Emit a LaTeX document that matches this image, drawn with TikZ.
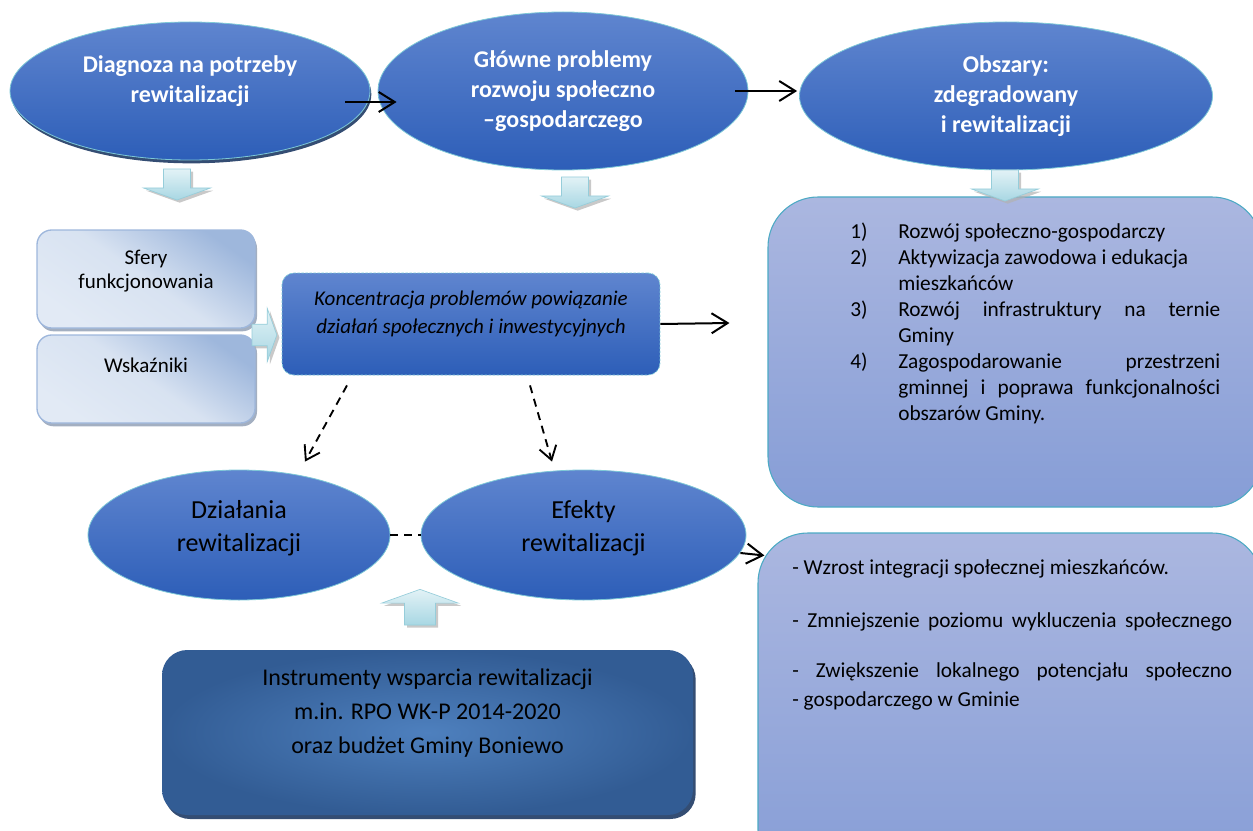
\documentclass[tikz,border=0pt]{standalone}
\usepackage{fontspec}
\setmainfont{Carlito}
\usetikzlibrary{shapes.geometric,arrows.meta,shadows}

\newcommand{\pxu}{0.75pt}
\newlength{\numw}\setlength{\numw}{36pt}
\newlength{\txtw}\setlength{\txtw}{241.5pt}
\newlength{\wyw}\setlength{\wyw}{330pt}

\definecolor{headtop}{RGB}{95,133,207}
\definecolor{headbot}{RGB}{45,94,184}
\definecolor{headrim}{RGB}{125,200,214}
\definecolor{listtop}{RGB}{171,183,224}
\definecolor{listbot}{RGB}{134,157,214}
\definecolor{listrim}{RGB}{76,170,196}
\definecolor{sferydark}{RGB}{158,183,220}
\definecolor{sferylight}{RGB}{226,234,245}
\definecolor{sferyshad}{RGB}{140,155,178}
\definecolor{fundout}{RGB}{50,92,148}
\definecolor{fundin}{RGB}{78,128,190}
\definecolor{fundshad}{RGB}{30,58,100}
\definecolor{blocktop}{RGB}{226,242,246}
\definecolor{blockbot}{RGB}{168,215,227}
\definecolor{blockrim}{RGB}{150,205,218}

\tikzset{
  headellipse/.style={ellipse, draw=headrim, line width=0.6pt, top color=headtop,
    bottom color=headbot, inner sep=0pt, align=center, text=white,
    font=\fontsize{18}{22.5}\selectfont\bfseries},
  resultellipse/.style={ellipse, draw=headrim, line width=0.6pt, top color=headtop,
    bottom color=headbot, inner sep=0pt, align=center, text=black,
    font=\fontsize{19.5}{24.75}\selectfont},
  sidebox/.style={rectangle, rounded corners=11pt, draw=sferydark, line width=1pt,
    top color=sferydark, bottom color=sferylight, middle color=sferylight!85!sferydark,
    shading angle=-35, inner sep=0pt, align=center,
    minimum width=218*\pxu, font=\fontsize{15.75}{18}\selectfont,
    drop shadow={shadow xshift=1.5pt, shadow yshift=-2.5pt, fill=sferyshad, opacity=0.8}},
  focusbox/.style={rectangle, rounded corners=9pt, draw=headrim, line width=0.6pt,
    dash pattern=on 2pt off 1pt, top color=headtop, bottom color=headbot,
    inner sep=0pt, align=center, font=\fontsize{15.75}{21}\selectfont\itshape},
  listbox/.style={rectangle, rounded corners=37.5pt, draw=listrim, line width=0.8pt,
    top color=listtop, bottom color=listbot, inner sep=0pt},
  listtext/.style={inner sep=0pt, align=left, font=\fontsize{16}{19.5}\selectfont},
  fundbox/.style={rectangle, rounded corners=19pt, inner color=fundin, outer color=fundout,
    inner sep=0pt, align=center, font=\fontsize{18}{25.5}\selectfont,
    drop shadow={shadow xshift=2pt, shadow yshift=-3pt, fill=fundshad, opacity=0.9}},
  arr/.style={-{Straight Barb[length=12pt,width=15pt]}, line width=1.5pt},
  dasharr/.style={-{Straight Barb[length=10pt,width=13pt]}, line width=1.4pt,
    dash pattern=on 6pt off 4.5pt},
  downblock/.pic={
    \path[draw=blockrim, line width=0.5pt, top color=blocktop, bottom color=blockbot,
      drop shadow={shadow xshift=2pt, shadow yshift=-2pt, fill=gray!60, opacity=0.7}]
      (-13.5,0) -- (13.5,0) -- (13.5,19) -- (33.5,19) -- (0,31) -- (-33.5,19)
      -- (-13.5,19) -- cycle;
  }
}

\begin{document}
\begin{tikzpicture}[x=0.75pt,y=-0.75pt]
  \useasboundingbox (0,0) rectangle (1253,831);

  % prawa strona - duze ramki
  \node (box1) at (1015,352) [listbox, minimum width=494*\pxu, minimum height=310*\pxu]{};
  \node (box2) at (1010,706.5) [listbox, minimum width=504*\pxu, minimum height=347*\pxu]{};

  \node (list1) at (850,223) [listtext, anchor=north west]{%
    \makebox[\numw][l]{1)}Rozwój społeczno-gospodarczy\\
    \makebox[\numw][l]{2)}Aktywizacja zawodowa i edukacja\\
    \makebox[\numw][l]{}mieszkańców\\
    \makebox[\numw][l]{3)}\makebox[\txtw][s]{Rozwój infrastruktury na ternie}\\
    \makebox[\numw][l]{}Gminy\\
    \makebox[\numw][l]{4)}\makebox[\txtw][s]{Zagospodarowanie przestrzeni}\\
    \makebox[\numw][l]{}\makebox[\txtw][s]{gminnej i poprawa funkcjonalności}\\
    \makebox[\numw][l]{}obszarów Gminy.};

  \node (list2) at (792,559) [listtext, anchor=north west, font=\fontsize{16}{21.75}\selectfont]{%
    - Wzrost integracji społecznej mieszkańców.\\[18pt]
    \makebox[\wyw][s]{- Zmniejszenie poziomu wykluczenia społecznego}\\[15.75pt]
    \makebox[\wyw][s]{- Zwiększenie lokalnego potencjału społeczno}\\
    - gospodarczego w Gminie};

  % gorny rzad
  \node (diag) at (190,91) [headellipse, minimum width=360*\pxu, minimum height=138*\pxu,
    drop shadow={shadow xshift=1pt, shadow yshift=-2.5pt, fill=fundshad, opacity=0.9}]
    {Diagnoza na potrzeby\\rewitalizacji\\[-5pt]\mbox{}};
  \node (glow) at (563,91) [headellipse, minimum width=370*\pxu, minimum height=158*\pxu]
    {Główne problemy\\rozwoju społeczno\\–gospodarczego};
  \node (obsz) at (1006,96) [headellipse, minimum width=413*\pxu, minimum height=148*\pxu]
    {Obszary:\\zdegradowany\\i rewitalizacji};

  \draw[arr] ([shift={(-25,11)}]diag.east) -- ([shift={(19,11)}]glow.west);
  \draw[arr] ([shift={(-13,0)}]glow.east) -- ([shift={(-2,-5)}]obsz.west);

  % srodek
  \node (sfery) at (146,279) [sidebox, minimum height=98*\pxu]{Sfery\\funkcjonowania\\[-4pt]\mbox{}};
  \node (wskaz) at (146,379) [sidebox, minimum height=88*\pxu]{Wskaźniki\\[3pt]\mbox{}};
  \node (konc) at (471,324) [focusbox, minimum width=378*\pxu, minimum height=102*\pxu]
    {Koncentracja problemów powiązanie\\działań społecznych i inwestycyjnych\\[-3pt]\mbox{}};

  \draw[arr] (konc.east) -- ([shift={(-38,-29)}]box1.west);

  % dolny rzad
  \node (dzial) at (239,535) [resultellipse, minimum width=302*\pxu, minimum height=130*\pxu]
    {Działania\\rewitalizacji\\[-11pt]\mbox{}};
  \node (efekt) at (583.5,535) [resultellipse, minimum width=325*\pxu, minimum height=130*\pxu]
    {Efekty\\rewitalizacji\\[-11pt]\mbox{}};
  \node (fund) at (427.5,732.5) [fundbox, minimum width=531*\pxu, minimum height=165*\pxu]
    {Instrumenty wsparcia rewitalizacji\\m.in. RPO WK-P 2014-2020\\oraz budżet Gminy Boniewo\\[6pt]\mbox{}};

  \draw[dasharr] ([shift={(-124,10)}]konc.south) -- ([shift={(66,-8)}]dzial.north);
  \draw[dasharr] ([shift={(59,10)}]konc.south) -- ([shift={(-31.5,-8)}]efekt.north);
  \draw[line width=1.4pt, dash pattern=on 6pt off 4.5pt] (dzial.east) -- (efekt.west);
  \draw[arr] ([shift={(-6,18)}]efekt.east) -- ([shift={(7,-151)}]box2.west);

  % strzalki blokowe
  \pic at (177,169) {downblock};
  \pic at (575,177) {downblock};
  \pic at (1005,170) {downblock};
  \pic at (252,335) [rotate=90, scale=0.8] {downblock};
  \pic at (420,625) [rotate=180, scale=1.15] {downblock};

\end{tikzpicture}
\end{document}
